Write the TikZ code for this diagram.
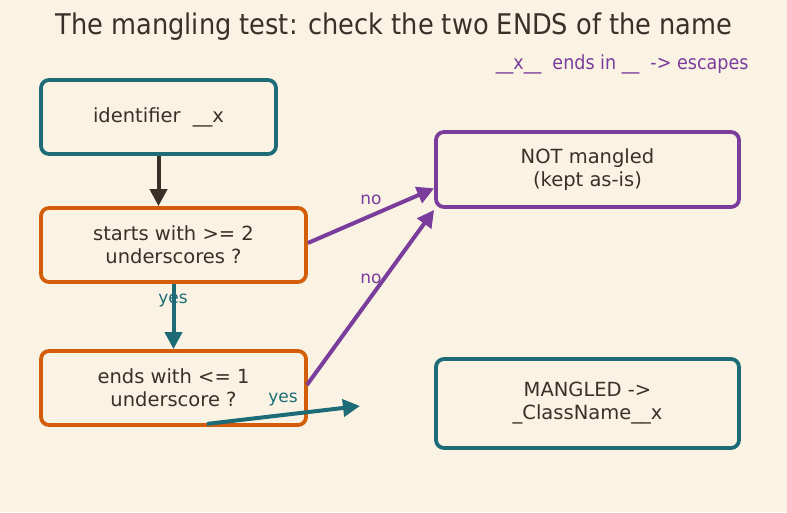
\documentclass[tikz,border=0pt]{standalone}
\usepackage{fontspec}
\setmainfont{DejaVu Sans}
\newfontfamily\condfont{DejaVu Sans Condensed}
\usetikzlibrary{calc, positioning, arrows.meta}

\definecolor{paper}{HTML}{FAF3E4}
\definecolor{ink}{HTML}{3A3028}
\definecolor{tealc}{HTML}{1C6B77}
\definecolor{orangec}{HTML}{D25E0A}
\definecolor{purplec}{HTML}{7A3D9C}

\tikzset{
    box/.style={rectangle, rounded corners=8pt, line width=3.8pt, fill=paper,
        text=ink, align=center, font=\fontsize{19.5}{23}\selectfont},
    tealbox/.style={box, draw=tealc},
    orangebox/.style={box, draw=orangec},
    purplebox/.style={box, draw=purplec},
    flow/.style={line width=4pt, -{Triangle[length=17pt,width=17pt]}},
    lbl/.style={font=\fontsize{17}{19}\selectfont}
}

\begin{document}
\begin{tikzpicture}[x=1pt, y=-1pt]
    \fill[paper] (0,0) rectangle (787,512);
    \useasboundingbox (0,0) rectangle (787,512);

    \node[text=ink, font=\condfont\fontsize{28.5}{32}\selectfont] (title) at (394,27) {The mangling test: check the two ENDS of the name};
    \node[text=purplec, font=\condfont\fontsize{19.5}{22}\selectfont, anchor=east] (note) at (752,64) {\_\_x\_\_ \ ends in \_\_ \ -> escapes};

    \node[tealbox, minimum width=235pt, minimum height=74pt] (id) at (158.5,117) {identifier \ \_\_x};
    \node[orangebox, minimum width=265pt, minimum height=74pt] (sw) at (173.5,245) {starts with >= 2\\underscores ?};
    \node[orangebox, minimum width=265pt, minimum height=74pt] (ew) at (173.5,388) {ends with <= 1\\underscore ?};
    \node[purplebox, minimum width=303pt, minimum height=75pt] (nm) at (587.5,169.5) {NOT mangled\\(kept as-is)};
    \node[tealbox, minimum width=303pt, minimum height=89pt] (mg) at (587.5,403.5) {MANGLED ->\\\_ClassName\_\_x};

    \coordinate (yesend) at (360,406);

    \draw[flow, ink] (id.south) -- (id.south |- sw.north);
    \draw[flow, tealc] (sw.south) -- (ew.north);
    \draw[flow, purplec] ($(sw.east)+(0,-2)$) -- (nm.187.7);
    \draw[flow, purplec] ($(ew.east)+(-1,-3)$) -- ($(nm.south west)+(0,1)$);
    \draw[flow, tealc] ($(ew.south)+(33.5,-3)$) -- (yesend);

    \node[lbl, text=tealc] (yes1) at (173,301) {yes};
    \node[lbl, text=purplec] (no1) at (371,200) {no};
    \node[lbl, text=purplec] (no2) at (371,279) {no};
    \node[lbl, text=tealc] (yes2) at (283,399) {yes};
\end{tikzpicture}
\end{document}
